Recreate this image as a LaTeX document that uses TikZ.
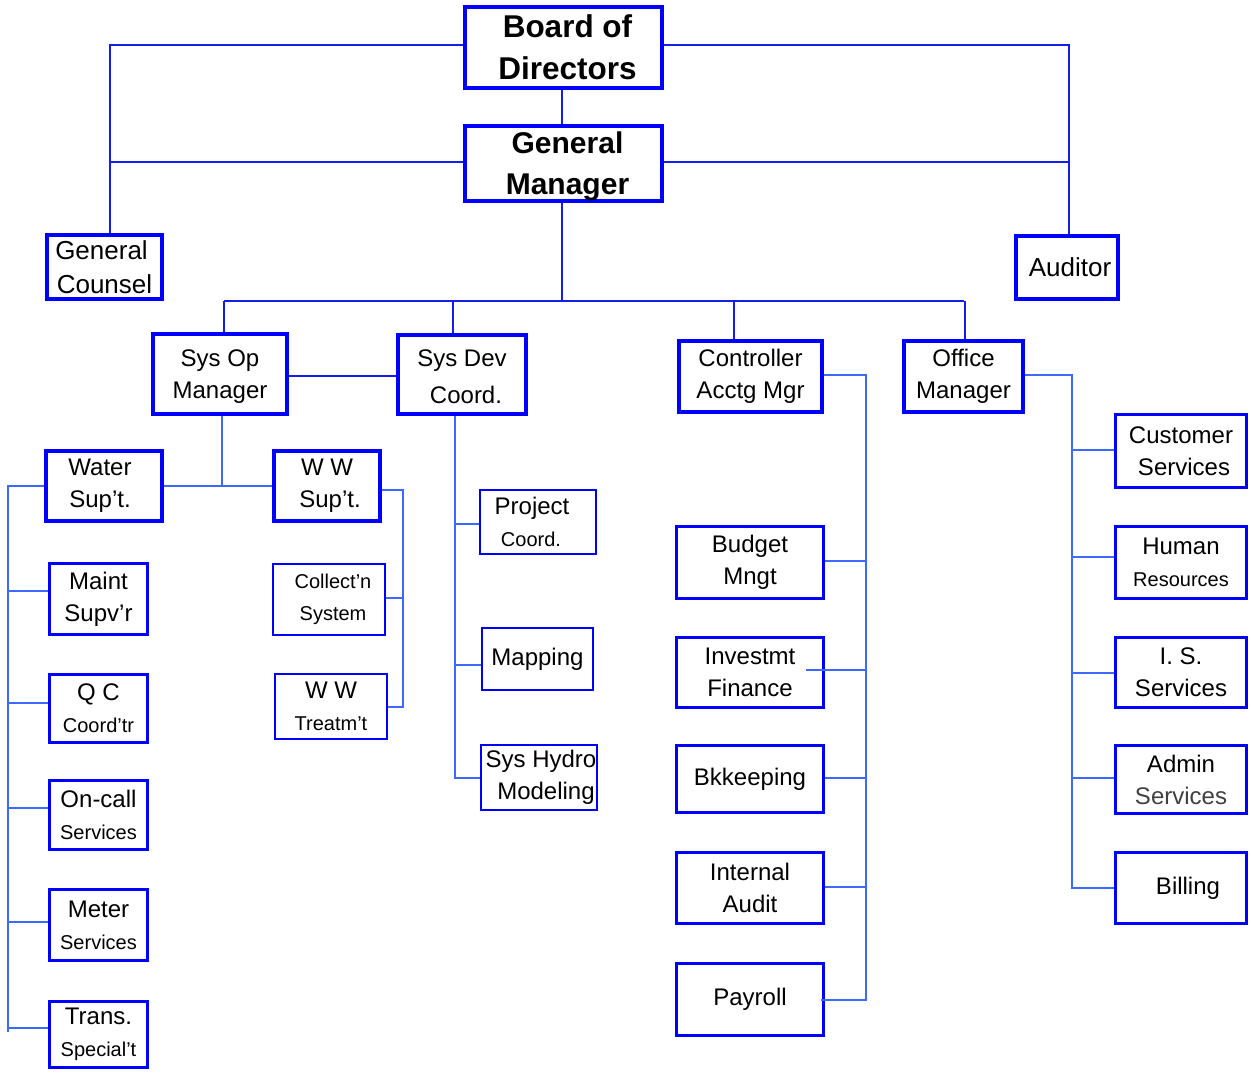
\documentclass[tikz,border=0pt]{standalone}
\usepackage{fontspec}
\setmainfont{Liberation Sans}
\newcommand\fsN{\fontsize{24}{32}\selectfont}
\newcommand\fsS{\fontsize{20}{32}\selectfont}
\newcommand\fsG{\fontsize{26}{34}\selectfont}
\newcommand\fsB{\fontsize{31.5}{42}\selectfont\bfseries}
\newcommand\fsM{\fontsize{30}{41}\selectfont\bfseries}
\definecolor{bblue}{RGB}{0,0,255}
\definecolor{lblue}{RGB}{60,105,255}
\definecolor{tblue}{RGB}{20,30,235}
\tikzset{
  boxA/.style={draw=bblue, line width=4pt, inner sep=0pt, align=center, font=\fsN},
  boxB/.style={draw=bblue, line width=3pt, inner sep=0pt, align=center, font=\fsN},
  boxC/.style={draw=bblue, line width=2pt, inner sep=0pt, align=center, font=\fsN},
  topconn/.style={draw=tblue, line width=2pt},
  conn/.style={draw=lblue, line width=2pt},
}
\begin{document}
\begin{tikzpicture}[x=1pt,y=-1pt]
\useasboundingbox[fill=white] (0,0) rectangle (1251,1072);
% top level
\node[boxA, font=\fsB, minimum width=197, minimum height=81] (bod) at (563.5,47.5) {\hspace*{8pt}Board of\\\hspace*{8pt}Directors};
\node[boxA, font=\fsM, minimum width=197, minimum height=75] (gm) at (563.5,163.5) {\rule{0pt}{28pt}\hspace*{8pt}General\\\hspace*{8pt}Manager};
\node[boxA, font=\fsG, minimum width=115, minimum height=64] (gc) at (104.5,267) {General\hspace*{6pt}\\Counsel};
\node[boxA, font=\fsG, minimum width=102, minimum height=63] (aud) at (1067,267.5) {\hspace*{6pt}Auditor};
% managers
\node[boxA, minimum width=134, minimum height=80] (sysop) at (220,374) {\rule{0pt}{22pt}Sys Op\\Manager};
\node[boxA, minimum width=128, minimum height=79] (sysdev) at (462,374.5) {\rule{0pt}{22pt}Sys Dev\\[5pt] \hspace*{8pt}Coord.};
\node[boxA, minimum width=143, minimum height=71] (ctrl) at (750.5,376.5) {Controller\\Acctg Mgr};
\node[boxA, minimum width=119, minimum height=71] (office) at (963.5,376.5) {Office\\Manager};
% sys op children
\node[boxA, minimum width=116, minimum height=70] (water) at (104,486) {Water\hspace*{8pt}\\Sup't.\hspace*{8pt}};
\node[boxA, minimum width=106, minimum height=70] (wwsup) at (327,486) {W W\\\hspace*{6pt}Sup't.};
\node[boxB, minimum width=98, minimum height=71] (maint) at (98.5,599) {Maint\\Supv'r};
\node[boxB, minimum width=98, minimum height=68] (qc) at (98.5,708.5) {Q C\\{\fsS Coord'tr}};
\node[boxB, minimum width=98, minimum height=69] (oncall) at (98.5,815) {On-call\\{\fsS Services}};
\node[boxB, minimum width=98, minimum height=71] (meter) at (98.5,925) {Meter\\{\fsS Services}};
\node[boxB, minimum width=98, minimum height=66] (trans) at (98.5,1034.5) {Trans.\\{\fsS Special't}};
\node[boxC, font=\fsS, minimum width=112, minimum height=71] (collect) at (329,599.5) {\hspace*{8pt}Collect'n\\\hspace*{8pt}System};
\node[boxC, minimum width=112, minimum height=65] (wwtreat) at (331,706.5) {W W\\{\fsS Treatm't}};
% sys dev children
\node[boxC, minimum width=116, minimum height=64] (project) at (538,522) {Project\hspace*{12pt}\\{\fsS Coord.}\hspace*{14pt}};
\node[boxC, minimum width=111, minimum height=62] (mapping) at (537.5,659) {Mapping};
\node[boxC, minimum width=116, minimum height=65] (hydro) at (539,777.5) {\hspace*{4pt}Sys Hydro\\\hspace*{14pt}Modeling};
% controller children
\node[boxB, minimum width=147, minimum height=72] (budget) at (750,562.5) {Budget\\Mngt};
\node[boxB, minimum width=147, minimum height=70] (invest) at (750,672.5) {Investmt\\Finance};
\node[boxB, minimum width=147, minimum height=67] (bkk) at (750,779) {Bkkeeping};
\node[boxB, minimum width=147, minimum height=71] (iaudit) at (750,888) {Internal\\Audit};
\node[boxB, minimum width=147, minimum height=72] (payroll) at (750,999.5) {Payroll};
% office children
\node[boxB, minimum width=131, minimum height=73] (cust) at (1181,451) {Customer\\\hspace*{6pt}Services};
\node[boxB, minimum width=131, minimum height=72] (human) at (1181,562.5) {Human\\{\fsS Resources}};
\node[boxB, minimum width=131, minimum height=70] (is) at (1181,672.5) {I. S.\\Services};
\node[boxB, minimum width=131, minimum height=68] (admin) at (1181,779.5) {Admin\\{\color{black!75}Services}};
\node[boxB, minimum width=131, minimum height=71] (billing) at (1181,888) {\hspace*{14pt}Billing};
% coordinates of buses
\coordinate (TL) at (110,0);
\coordinate (TR) at (1069,0);
\coordinate (bus) at (562,301);
\coordinate (L) at (8,0);
\coordinate (R1) at (403,0);
\coordinate (D) at (455,0);
\coordinate (C) at (866,0);
\coordinate (O) at (1072,0);
% top connectors
\draw[topconn] ([yshift=2.5]bod.west) -| (gc.north -| TL);
\draw[topconn] ([yshift=2.5]bod.east) -| (aud.north -| TR);
\draw[topconn] ([yshift=1.5]gm.west) -- ([yshift=1.5]gm.west -| TL);
\draw[topconn] ([yshift=1.5]gm.east) -- ([yshift=1.5]gm.east -| TR);
\draw[topconn] (bod.south -| bus) -- (gm.north -| bus);
\draw[topconn] (gm.south -| bus) -- (bus);
\draw[topconn] ([xshift=4]sysop.north |- bus) -- (office.north |- bus);
\draw[topconn] ([xshift=4]sysop.north |- bus) -- ([xshift=4]sysop.north);
\draw[topconn] ([xshift=-9]sysdev.north |- bus) -- ([xshift=-9]sysdev.north);
\draw[topconn] ([xshift=-16.5]ctrl.north |- bus) -- ([xshift=-16.5]ctrl.north);
\draw[topconn] ([xshift=1.5]office.north |- bus) -- ([xshift=1.5]office.north);
\draw[topconn] ([yshift=-2]sysop.east) -- ([yshift=-2]sysop.east -| sysdev.west);
% sys op children
\draw[conn] ([xshift=2]sysop.south) -- ([xshift=2]sysop.south |- water.east);
\draw[conn] (water.east) -- (wwsup.west);
\draw[conn] (water.west) -- (water.west -| L) -- ([yshift=2.5]trans.west -| L);
\draw[conn] ([yshift=6.5]trans.west) -- ([yshift=6.5]trans.west -| L);
\draw[conn] ([yshift=8]maint.west) -- ([yshift=8]maint.west -| L);
\draw[conn] ([yshift=5.5]qc.west) -- ([yshift=5.5]qc.west -| L);
\draw[conn] ([yshift=7]oncall.west) -- ([yshift=7]oncall.west -| L);
\draw[conn] ([yshift=3]meter.west) -- ([yshift=3]meter.west -| L);
\draw[conn] ([yshift=-4]wwsup.east) -| (R1 |- wwtreat.east) -- (wwtreat.east);
\draw[conn] ([yshift=1.5]collect.east) -- ([yshift=1.5]collect.east -| R1);
% sys dev children
\draw[conn] (sysdev.south -| D) |- (hydro.west);
\draw[conn] ([yshift=-2]project.west) -- ([yshift=-2]project.west -| D);
\draw[conn] ([yshift=-6]mapping.west) -- ([yshift=-6]mapping.west -| D);
% controller children
\draw[conn] ([yshift=1.5]ctrl.east) -| (C |- payroll.east) -- ([xshift=-4]payroll.east);
\draw[conn] ([yshift=1.5]budget.east) -- ([yshift=1.5]budget.east -| C);
\draw[conn] ([xshift=-19,yshift=2.5]invest.east) -- ([yshift=2.5]invest.east -| C);
\draw[conn] ([yshift=1]bkk.east) -- ([yshift=1]bkk.east -| C);
\draw[conn] ([yshift=1]iaudit.east) -- ([yshift=1]iaudit.east -| C);
% office children
\draw[conn] ([yshift=1.5]office.east) -| (O |- billing.west) -- (billing.west);
\draw[conn] ([yshift=1]cust.west) -- ([yshift=1]cust.west -| O);
\draw[conn] ([yshift=6]human.west) -- ([yshift=6]human.west -| O);
\draw[conn] (is.west) -- (is.west -| O);
\draw[conn] ([yshift=1.5]admin.west) -- ([yshift=1.5]admin.west -| O);
\end{tikzpicture}
\end{document}
